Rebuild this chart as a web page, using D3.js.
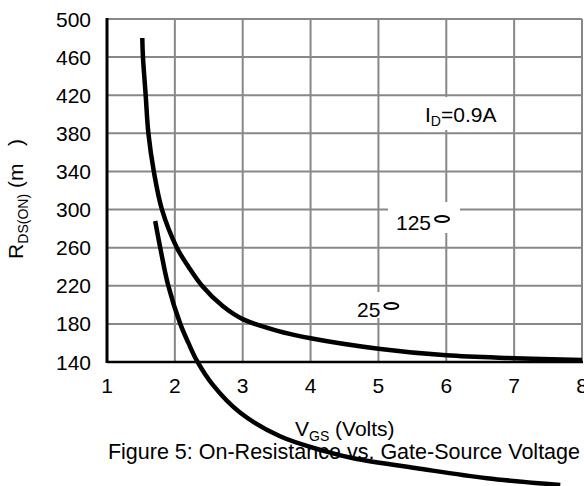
<!DOCTYPE html>
<html>
<head>
<meta charset="utf-8">
<script src="https://cdn.jsdelivr.net/npm/d3@7"></script>
<style>
body { margin: 0; background: #fff; }
svg text { font-family: "Liberation Sans", Arial, sans-serif; fill: #000; white-space: pre; }
.grid line { stroke: #888; stroke-width: 2; }
.curve { fill: none; stroke: #000; stroke-width: 4.5; stroke-linejoin: round; }
</style>
</head>
<body>
<svg></svg>
<script>
var width = 584, height = 486;

// tick values
var xTicks = [1, 2, 3, 4, 5, 6, 7, 8];
var yTicks = [140, 180, 220, 260, 300, 340, 380, 420, 460, 500];

// 125 C curve: [VGS, RDS(on) mOhm]
var hot = [[1.52, 480], [1.53, 460], [1.57, 420], [1.61, 380], [1.69, 340], [1.81, 300],
           [2.03, 260], [2.2, 240], [2.40, 220], [2.7, 199], [3.0, 185], [3.5, 173],
           [4.0, 165], [5.0, 154], [6.0, 147], [7.0, 144], [8.0, 142]];
// 25 C curve (runs past the bottom axis in the original)
var cold = [[1.71, 288], [1.79, 258], [1.90, 221], [2.08, 180], [2.2, 160], [2.32, 142],
            [2.56, 116], [2.96, 87], [3.55, 62], [4.18, 47], [4.63, 39], [5.61, 28],
            [6.60, 18], [7.68, 11]];

var svg = d3.select("svg").attr("width", width).attr("height", height);

var x = d3.scaleLinear().domain([1, 8]).range([107, 582]);
var y = d3.scaleLinear().domain([140, 500]).range([362, 19]);

var grid = svg.append("g").attr("class", "grid");
grid.selectAll(".v").data(xTicks).enter().append("line")
    .attr("x1", d => x(d)).attr("x2", d => x(d))
    .attr("y1", y(500)).attr("y2", y(140));
grid.selectAll(".h").data(yTicks).enter().append("line")
    .attr("x1", x(1)).attr("x2", x(8))
    .attr("y1", d => y(d)).attr("y2", d => y(d));

// white boxes behind the in-plot labels
var boxes = [[418, 97, 80, 33], [388, 202, 72, 31], [350, 292, 52, 26]];
svg.selectAll(".box").data(boxes).enter().append("rect")
    .attr("x", d => d[0]).attr("y", d => d[1])
    .attr("width", d => d[2]).attr("height", d => d[3])
    .attr("fill", "#fff");

// axes lines
svg.append("line").attr("x1", x(1)).attr("x2", x(1)).attr("y1", y(500) - 1).attr("y2", y(140) + 1)
    .attr("stroke", "#000").attr("stroke-width", 3);
svg.append("line").attr("x1", x(1)).attr("x2", x(8) + 1).attr("y1", y(140)).attr("y2", y(140))
    .attr("stroke", "#000").attr("stroke-width", 2.5);

var fs = "21px", sub = "14px";
svg.selectAll(".yl").data(yTicks).enter().append("text")
    .attr("x", 91).attr("y", d => y(d) + 7.5)
    .attr("text-anchor", "end").style("font-size", fs)
    .text(d => d);
svg.selectAll(".xl").data(xTicks).enter().append("text")
    .attr("x", d => x(d)).attr("y", 393)
    .attr("text-anchor", "middle").style("font-size", fs)
    .text(d => d);

// axis titles
var yt = svg.append("text")
    .attr("transform", "translate(23,199) rotate(-90)")
    .attr("text-anchor", "middle").style("font-size", fs);
yt.append("tspan").text("R");
yt.append("tspan").attr("dy", 5).style("font-size", sub).text("DS(ON)");
yt.append("tspan").attr("dy", -5).text(" (m   )");

var xt = svg.append("text").attr("x", 295).attr("y", 436).style("font-size", fs);
xt.append("tspan").text("V");
xt.append("tspan").attr("dy", 5).style("font-size", sub).text("GS");
xt.append("tspan").attr("dy", -5).text(" (Volts)");

svg.append("text").attr("x", 580).attr("y", 459).attr("text-anchor", "end")
    .style("font-size", "21.5px").text("Figure 5: On-Resistance vs. Gate-Source Voltage");

// in-plot labels
var id = svg.append("text").attr("x", 425).attr("y", 122).style("font-size", fs);
id.append("tspan").text("I");
id.append("tspan").attr("dy", 4).style("font-size", sub).text("D");
id.append("tspan").attr("dy", -4).text("=0.9A");

var temps = [{t: "125", x: 396, y: 230}, {t: "25", x: 357, y: 317}];
temps.forEach(function(d) {
  var tx = svg.append("text").attr("x", d.x).attr("y", d.y).style("font-size", fs).text(d.t);
  var w = tx.node().getComputedTextLength();
  // flat degree mark
  svg.append("ellipse")
      .attr("cx", d.x + w + 11).attr("cy", d.y - 11)
      .attr("rx", 7).attr("ry", 3)
      .attr("fill", "none").attr("stroke", "#000").attr("stroke-width", 2);
});

// curves
var line = d3.line().x(d => x(d[0])).y(d => y(d[1])).curve(d3.curveCatmullRom.alpha(0.5));
svg.append("path").datum(hot).attr("class", "curve").attr("d", line);
svg.append("path").datum(cold).attr("class", "curve").attr("d", line);
</script>
</body>
</html>
